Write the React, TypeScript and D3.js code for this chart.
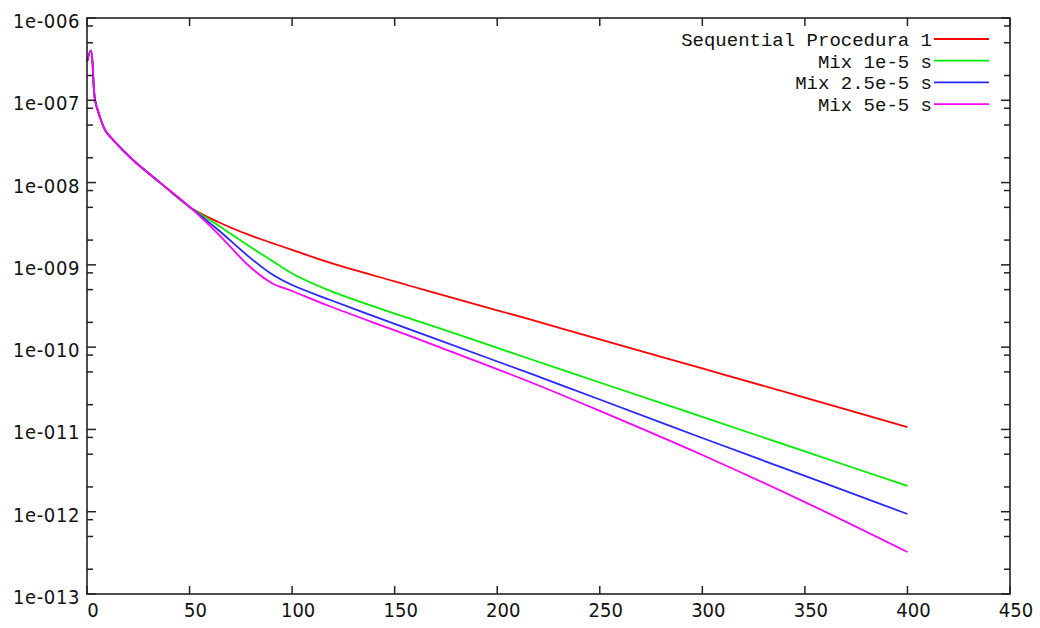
import React from "react";
import * as d3 from "d3";

const W = 1040;
const H = 628;

// shared early part (all series coincide)
const sharedX = [0, 1.9, 3.9, 6.3, 8.8, 12.7, 22.4, 35.6, 50];
const sharedY = [2.94e-7, 4.01e-7, 1.01e-7, 6.27e-8, 4.36e-8, 3.3e-8, 1.88e-8, 1.0e-8, 5.06e-9];

const laterX = [64, 79, 90, 100, 118, 150, 167, 216, 250, 300, 350, 400];
const seqValues = [3.32e-9, 2.31e-9, 1.85e-9, 1.52e-9, 1.07e-9, 6.28e-10, 4.75e-10, 2.17e-10, 1.24e-10, 5.51e-11, 2.44e-11, 1.07e-11];
const mix1Values = [3.01e-9, 1.69e-9, 1.13e-9, 7.85e-10, 4.89e-10, 2.56e-10, 1.86e-10, 7.18e-11, 3.72e-11, 1.42e-11, 5.4e-12, 2.06e-12];
const mix25Values = [2.65e-9, 1.25e-9, 7.74e-10, 5.69e-10, 3.79e-10, 1.92e-10, 1.34e-10, 4.79e-11, 2.31e-11, 7.87e-12, 2.72e-12, 9.38e-13];
const mix5Values = [2.37e-9, 9.68e-10, 6.03e-10, 4.81e-10, 3.16e-10, 1.6e-10, 1.11e-10, 3.77e-11, 1.68e-11, 4.89e-12, 1.31e-12, 3.24e-13];

const seriesNames = ["Sequential Procedura 1", "Mix 1e-5 s", "Mix 2.5e-5 s", "Mix 5e-5 s"];
const seriesColors = ["#ff0000", "#00ee00", "#2828ff", "#ff00ff"];
const seriesValues = [seqValues, mix1Values, mix25Values, mix5Values];

const xTicks = [0, 50, 100, 150, 200, 250, 300, 350, 400, 450];
const yTicks = [1e-6, 1e-7, 1e-8, 1e-9, 1e-10, 1e-11, 1e-12, 1e-13];
const yTickLabels = ["1e-006", "1e-007", "1e-008", "1e-009", "1e-010", "1e-011", "1e-012", "1e-013"];
const minorMults = [2, 5, 8];

export default function App() {
  const left = 87, right = 1010, top = 18, bottom = 594;
  const x = d3.scaleLinear().domain([0, 450]).range([left, right]);
  const y = d3.scaleLog().domain([1e-13, 1e-6]).range([bottom, top]);

  const line = d3
    .line<[number, number]>()
    .x((d) => x(d[0]))
    .y((d) => y(d[1]))
    .curve(d3.curveCatmullRom.alpha(0.5));

  const minorTicks: number[] = [];
  yTicks.slice(1).forEach((t) => {
    minorMults.forEach((m) => {
      const v = t * m;
      if (v < 1e-6) minorTicks.push(v);
    });
  });

  const tickFont = "'Liberation Sans Narrow', 'DejaVu Sans Condensed', 'Liberation Sans', sans-serif";
  const legendFont = "'Liberation Mono', 'DejaVu Sans Mono', monospace";

  return (
    <svg width={W} height={H} style={{ position: "absolute", left: 0, top: 0, background: "#fff" }}>
      <rect x={0} y={0} width={W} height={H} fill="#fff" />
      {/* series: drawn in order, last on top */}
      {seriesValues.map((vals, i) => {
        const pts: [number, number][] = [
          ...sharedX.map((xv, k) => [xv, sharedY[k]] as [number, number]),
          ...laterX.map((xv, k) => [xv, vals[k]] as [number, number]),
        ];
        return (
          <path key={i} d={line(pts) || ""} fill="none" stroke={seriesColors[i]} strokeWidth={1.8} />
        );
      })}
      {/* frame */}
      <rect x={left} y={top} width={right - left} height={bottom - top} fill="none" stroke="#222" strokeWidth={1.6} />
      {/* x ticks */}
      {xTicks.map((t) => (
        <g key={"x" + t}>
          <line x1={x(t)} x2={x(t)} y1={bottom} y2={bottom - 8} stroke="#222" strokeWidth={1.5} />
          <line x1={x(t)} x2={x(t)} y1={top} y2={top + 8} stroke="#222" strokeWidth={1.5} />
          <text x={x(t) + 6} y={617} textAnchor="middle" fontFamily={tickFont} fontSize={20} fill="#111">
            {t}
          </text>
        </g>
      ))}
      {/* y major ticks */}
      {yTicks.map((t, i) => (
        <g key={"y" + i}>
          <line x1={left} x2={left + 9} y1={y(t)} y2={y(t)} stroke="#222" strokeWidth={1.5} />
          <line x1={right} x2={right - 9} y1={y(t)} y2={y(t)} stroke="#222" strokeWidth={1.5} />
          <text x={80} y={y(t) + 10} textAnchor="end" fontFamily={tickFont} fontSize={20} fill="#111" letterSpacing={0.6}>
            {yTickLabels[i]}
          </text>
        </g>
      ))}
      {/* y minor ticks */}
      {minorTicks.map((t, i) => (
        <g key={"m" + i}>
          <line x1={left} x2={left + 6} y1={y(t)} y2={y(t)} stroke="#222" strokeWidth={1.5} />
          <line x1={right} x2={right - 6} y1={y(t)} y2={y(t)} stroke="#222" strokeWidth={1.5} />
        </g>
      ))}
      {/* legend */}
      {seriesNames.map((name, i) => {
        const ly = 39 + i * 21.7;
        return (
          <g key={"l" + i}>
            <text x={932} y={ly + 7} textAnchor="end" fontFamily={legendFont} fontSize={19} fill="#111">
              {name}
            </text>
            <line x1={934} x2={989} y1={ly} y2={ly} stroke={seriesColors[i]} strokeWidth={1.8} />
          </g>
        );
      })}
    </svg>
  );
}
